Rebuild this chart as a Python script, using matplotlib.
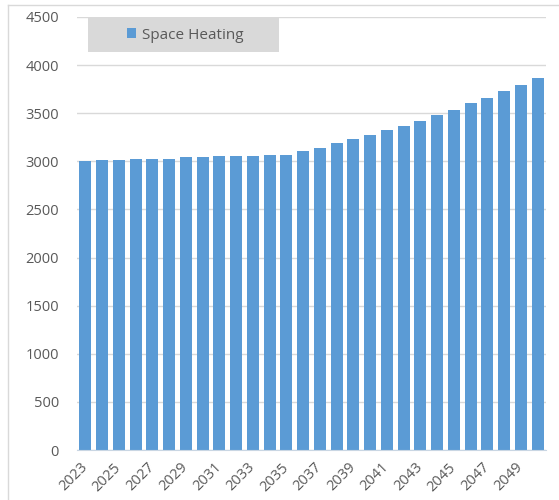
import matplotlib.pyplot as plt
from matplotlib.patches import Rectangle, Patch
from matplotlib.lines import Line2D

# annual space heating demand
years = list(range(2023, 2051))
space_heating = [3005, 3014, 3014, 3028, 3028, 3028, 3042, 3042, 3055, 3055,
                 3055, 3069, 3069, 3108, 3135, 3191, 3232, 3271, 3326, 3368,
                 3423, 3482, 3534, 3604, 3659, 3729, 3798, 3864]
yticks = list(range(0, 4501, 500))

plt.rcParams['font.family'] = ['Open Sans', 'DejaVu Sans']

bar_color = '#5b9bd5'
grid_color = '#d9d9d9'
text_color = '#595959'

fig = plt.figure(figsize=(5.59, 5.0), dpi=100)
ax = fig.add_axes([77 / 559, 1 - 450 / 500, 469 / 559, 433 / 500])

x = list(range(len(years)))
ax.bar(x, space_heating, width=0.73, color=bar_color, zorder=2)

ax.set_xlim(-0.5, len(years) - 0.5)
ax.set_ylim(0, 4500)
ax.set_yticks(yticks)
ax.set_yticklabels([str(v) for v in yticks], fontsize=10.5, color=text_color)
ax.yaxis.grid(True, color=grid_color, linewidth=1, zorder=0)
ax.tick_params(axis='y', length=0, pad=13)

# year labels every other bar, rotated under the bar centres
ax.set_xticks(x[::2])
ax.set_xticklabels([str(y) for y in years[::2]], rotation=45, ha='right',
                   va='center', rotation_mode='anchor', fontsize=10.5,
                   color=text_color)
ax.tick_params(axis='x', length=0, pad=11)

for side in ['top', 'right', 'left']:
    ax.spines[side].set_visible(False)
ax.spines['bottom'].set_color('#c9d6e3')

# chart frame (top and left edges visible)
fig.add_artist(Line2D([8 / 559, 8 / 559], [0, 1 - 5 / 500], color=grid_color,
                      linewidth=1, transform=fig.transFigure))
fig.add_artist(Line2D([8 / 559, 1], [1 - 5 / 500, 1 - 5 / 500], color=grid_color,
                      linewidth=1, transform=fig.transFigure))

# legend box
fig.add_artist(Rectangle((88 / 559, 1 - 52 / 500), 191 / 559, 35 / 500,
                         transform=fig.transFigure, facecolor=grid_color,
                         edgecolor='none', zorder=3))
leg = fig.legend(handles=[Patch(facecolor=bar_color, label='Space Heating')],
                 loc='center', bbox_to_anchor=(185 / 559, 1 - 35 / 500),
                 frameon=False, fontsize=11, handlelength=0.6, handleheight=0.6,
                 handletextpad=0.4, labelcolor=text_color)
leg.set_zorder(4)

fig.savefig('out.png', dpi=100)
